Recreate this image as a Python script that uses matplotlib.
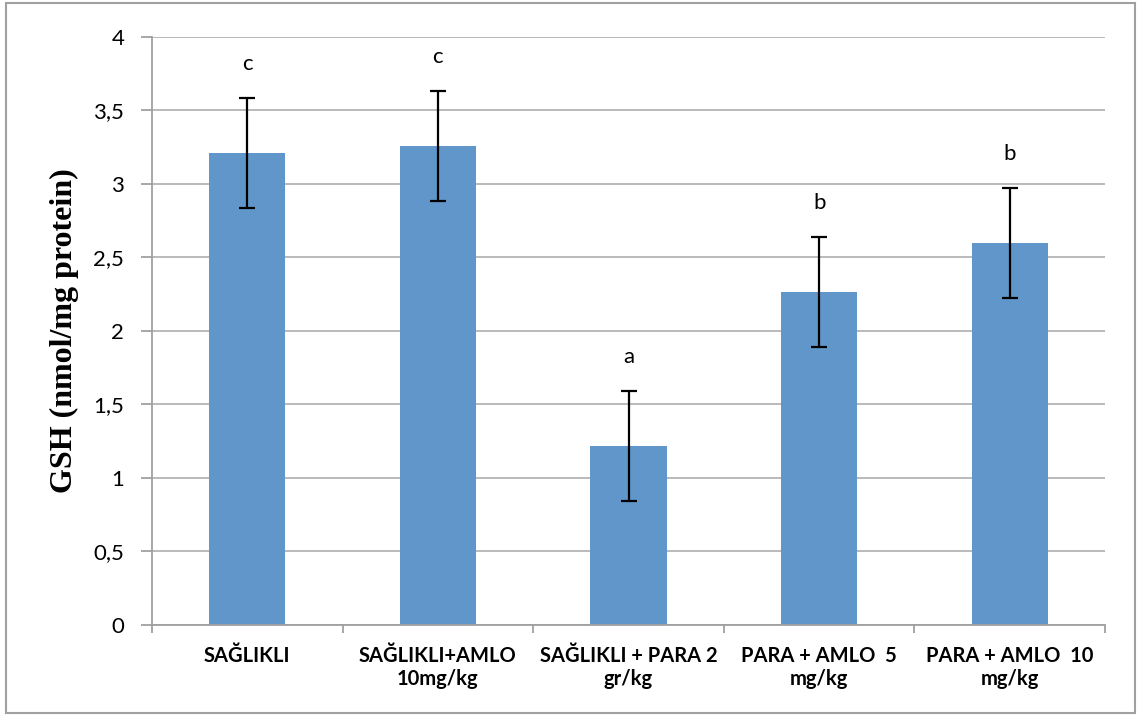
import matplotlib.pyplot as plt
from matplotlib.patches import Rectangle
from matplotlib.ticker import FuncFormatter, MultipleLocator
import numpy as np

groups = ['SAĞLIKLI', 'SAĞLIKLI+AMLO\n10mg/kg', 'SAĞLIKLI + PARA 2\ngr/kg',
          'PARA + AMLO  5\nmg/kg', 'PARA + AMLO  10\nmg/kg']
gsh = [3.21, 3.26, 1.215, 2.265, 2.60]
sd = [0.375, 0.375, 0.375, 0.375, 0.375]
letters = ['c', 'c', 'a', 'b', 'b']

plt.rcParams['font.family'] = ['Lato', 'DejaVu Sans']

fig = plt.figure(figsize=(11.41, 7.15), dpi=100)
ax = fig.add_axes([0.1332, 0.1259, 0.8353, 0.8224])

x = np.arange(len(groups))
ax.bar(x, gsh, width=0.4, color='#6096CA', zorder=2)
ax.errorbar(x, gsh, yerr=sd, fmt='none', ecolor='black', elinewidth=1.6,
            capsize=6, capthick=1.6, zorder=3)

for xi, m, e, lab in zip(x, gsh, sd, letters):
    ax.text(xi, m + e + 0.19, lab, ha='center', va='baseline', fontsize=16)

ax.set_xlim(-0.5, len(groups) - 0.5)
ax.set_ylim(0, 4)
ax.yaxis.set_major_locator(MultipleLocator(0.5))
ax.yaxis.set_major_formatter(FuncFormatter(lambda v, p: ('%g' % v).replace('.', ',')))
ax.grid(axis='y', color='#B4B4B4', linewidth=1.3, zorder=0)

ax.set_xticks(x)
ax.set_xticklabels(groups, fontsize=14.5, fontweight='bold', linespacing=1.2)
ax.set_xticks(np.arange(len(groups) + 1) - 0.5, minor=True)
ax.tick_params(axis='x', which='major', length=0, pad=15)
ax.tick_params(axis='x', which='minor', length=6, width=1.3, color='#A0A0A0', direction='out')
ax.tick_params(axis='y', length=8, width=1.3, color='#A0A0A0', labelsize=16, pad=12)

for s in ['top', 'right']:
    ax.spines[s].set_visible(False)
for s in ['left', 'bottom']:
    ax.spines[s].set_color('#A0A0A0')
    ax.spines[s].set_linewidth(1.3)

ax.set_ylabel('GSH (nmol/mg protein)', fontsize=23, fontweight='bold',
              family='Liberation Serif', labelpad=10)

# frame around the whole figure
fig.patches.append(Rectangle((0.005, 0.003), 0.99, 0.993, transform=fig.transFigure,
                             fill=False, edgecolor='#A0A0A0', linewidth=1.5))

fig.savefig('out.png', dpi=100)
